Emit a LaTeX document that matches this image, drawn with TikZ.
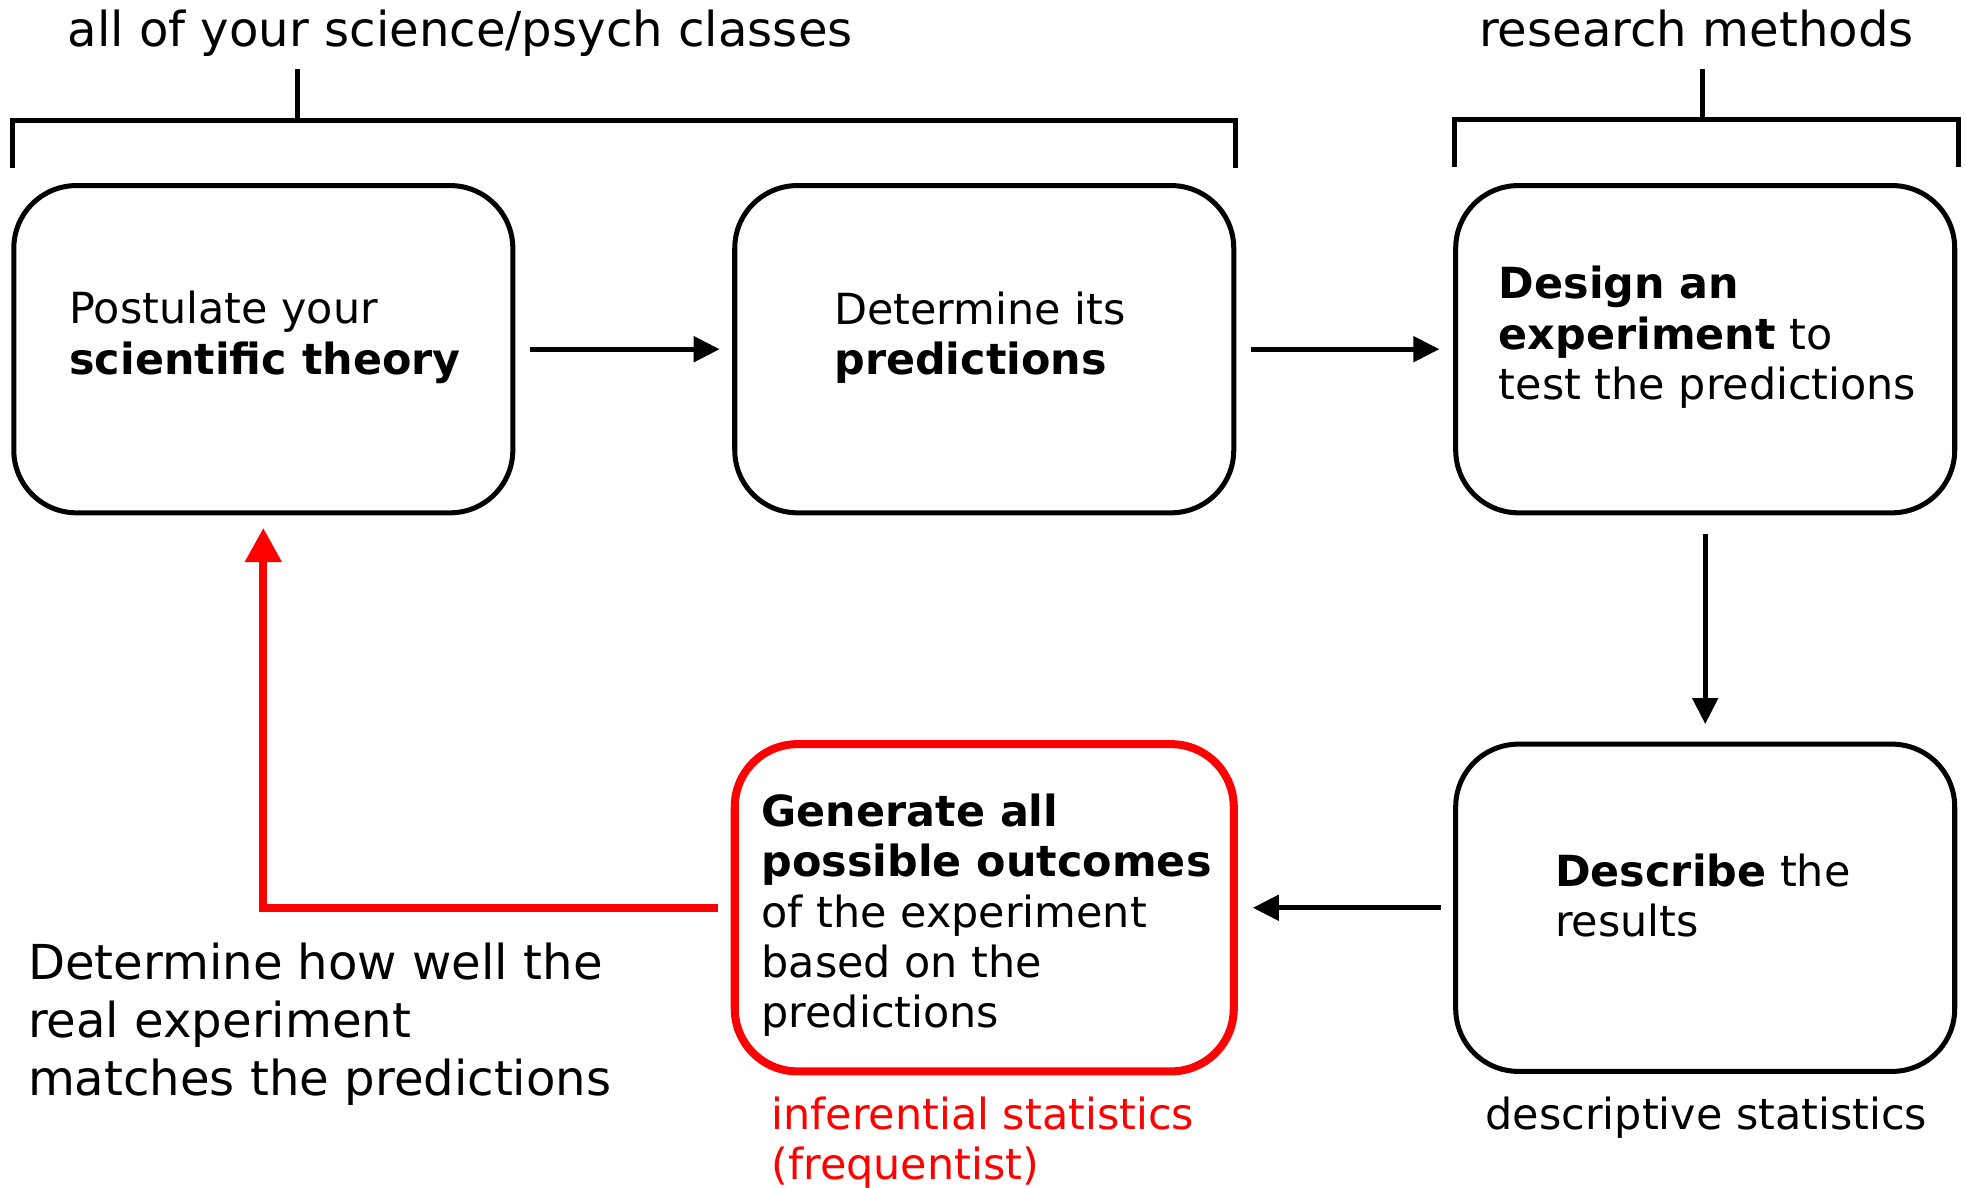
\documentclass[tikz,border=0pt]{standalone}
\usepackage{fontspec}
\setmainfont{DejaVu Sans}
\usetikzlibrary{arrows.meta}

\begin{document}
\begin{tikzpicture}[x=0.5pt, y=-0.5pt,
    stepbox/.style={draw, line width=2pt, rounded corners=25pt, minimum width=199pt, minimum height=130.5pt, inner sep=0pt},
    boxtext/.style={anchor=west, align=left, inner sep=0pt, font=\fontsize{17.1}{20}\selectfont},
    bigtext/.style={inner sep=0pt, font=\fontsize{19.2}{23}\selectfont},
    arr/.style={line width=2pt, -{Triangle[length=10.4pt,width=10pt]}},
    redarr/.style={red, line width=3.2pt, -{Triangle[length=13.7pt,width=14pt]}},
    bracket/.style={line width=2pt}]
    \useasboundingbox (0,0) rectangle (1568,947);
    % Steps
    \node (b1) at (210,278.5) [stepbox] {};
    \node (b2) at (785,278.5) [stepbox] {};
    \node (b3) at (1360,278.5) [stepbox] {};
    \node (b4) at (1360,724) [stepbox] {};
    \node (b5) at (785,724) [stepbox, draw=red, line width=3.2pt] {};
    \node (t1) at (55,269) [boxtext] {Postulate your\\\textbf{scientific theory}};
    \node (t2) at (665,269) [boxtext] {Determine its\\\textbf{predictions}};
    \node (t3) at (1195,269) [boxtext] {\textbf{Design an}\\\textbf{experiment} to\\test the predictions};
    \node (t4) at (1240,714) [boxtext] {\textbf{Describe} the\\results};
    \node (t5) at (607,730) [boxtext] {\textbf{Generate all}\\\textbf{possible outcomes}\\of the experiment\\based on the\\predictions};
    % Brackets
    \draw[bracket] (10,134) -- (10,96) -- (985,96) -- (985,134);
    \draw[bracket] (237,55) -- (237,96);
    \node (cls) at (367,37) [bigtext, anchor=base] {all of your science/psych classes};
    \draw[bracket] (1160,133) -- (1160,95) -- (1562,95) -- (1562,133);
    \draw[bracket] (1358,55) -- (1358,95);
    \node (rm) at (1353,37) [bigtext, anchor=base] {research methods};
    % Statistics labels
    \node (how) at (22,817) [bigtext, anchor=west, align=left] {Determine how well the\\real experiment\\matches the predictions};
    \node (inf) at (615,911) [boxtext, red] {inferential statistics\\(frequentist)};
    \node (desc) at (1361,891) [boxtext, anchor=center] {descriptive statistics};
    % Arrows
    \draw[arr, shorten <=6pt, shorten >=5pt] (b1) -- (b2);
    \draw[arr, shorten <=6pt, shorten >=5.5pt] (b2) -- (b3);
    \draw[arr, shorten <=7.5pt, shorten >=7pt] (b3) -- (b4);
    \draw[arr, shorten <=5pt, shorten >=6pt] (b4) -- (b5);
    \draw[redarr, shorten <=5pt, shorten >=5pt] (b5.west) -| (b1.south);
\end{tikzpicture}
\end{document}
